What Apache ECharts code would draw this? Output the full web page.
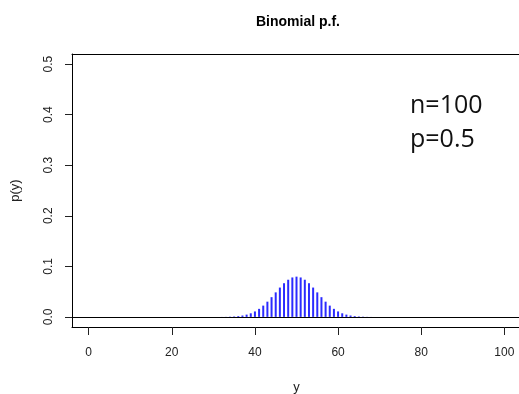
<!DOCTYPE html>
<html>
<head>
<meta charset="utf-8">
<script src="https://cdn.jsdelivr.net/npm/echarts@6/dist/echarts.min.js"></script>
<style>html,body{margin:0;padding:0;background:#fff;}#c{width:519px;height:394px;}</style>
</head>
<body>
<div id="c"></div>
<script>
// y values (number of successes) and their probabilities
var yValues = [32,33,34,35,36,37,38,39,40,41,42,43,44,45,46,47,48,49,50,51,52,53,54,55,56,57,58,59,60,61,62,63,64,65,66,67,68];
var probs = [0.0001,0.0002,0.0005,0.0009,0.0016,0.0027,0.0045,0.0071,0.0108,0.0159,0.0223,0.0301,0.0390,0.0485,0.0580,0.0666,0.0735,0.0780,0.0796,0.0780,0.0735,0.0666,0.0580,0.0485,0.0390,0.0301,0.0223,0.0159,0.0108,0.0071,0.0045,0.0027,0.0016,0.0009,0.0005,0.0002,0.0001];
var xTicks = [0,20,40,60,80,100];
var yTicks = [0,0.1,0.2,0.3,0.4,0.5];

var chart = echarts.init(document.getElementById('c'), null, {renderer:'canvas'});
var data = yValues.map(function(v,i){return [v, probs[i]];});
var font = 'Liberation Sans, Arial';
chart.setOption({
  animation:false,
  backgroundColor:'#fff',
  title:{
    text:'Binomial p.f.', left:293, textAlign:'center', top:10,
    textStyle:{fontFamily:font, fontWeight:'bold', fontSize:14, color:'#000'}
  },
  grid:{left:72, top:54, width:449, height:273, show:false, outerBoundsMode:'none', containLabel:false},
  xAxis:[{
    type:'value', min:-4, max:104, position:'bottom',
    name:'y', nameLocation:'middle', nameGap:54,
    nameTextStyle:{fontFamily:font, fontSize:13, color:'#222'},
    axisLine:{show:true, onZero:false, lineStyle:{color:'#000', width:1}},
    splitLine:{show:false},
    axisTick:{show:true, customValues:xTicks, length:8, lineStyle:{color:'#222'}},
    axisLabel:{customValues:xTicks, margin:20, fontFamily:font, fontSize:12, color:'#222'}
  },{
    type:'value', min:-4, max:104, position:'top',
    axisLine:{show:true, onZero:false, lineStyle:{color:'#000', width:1}},
    splitLine:{show:false}, axisTick:{show:false}, axisLabel:{show:false}
  }],
  yAxis:{
    type:'value', min:-0.02, max:0.52,
    name:'p(y)', nameLocation:'middle', nameGap:50, nameRotate:90,
    nameTextStyle:{fontFamily:font, fontSize:13, color:'#222'},
    axisLine:{show:true, onZero:false, lineStyle:{color:'#000', width:1}},
    splitLine:{show:false},
    axisTick:{show:true, customValues:yTicks, length:7, lineStyle:{color:'#222'}},
    axisLabel:{customValues:yTicks, rotate:90, margin:17, fontFamily:font, fontSize:12, color:'#222',
      formatter:function(v){return v.toFixed(1);}}
  },
  series:[{
    type:'bar', data:data, barWidth:2, itemStyle:{color:'#2b2bff'},
    markLine:{silent:true, symbol:['none','none'], label:{show:false},
      lineStyle:{color:'#000', width:1, type:'solid'}, data:[{yAxis:0}]}
  }],
  graphic:[
    {type:'text', left:410, top:93, style:{text:'n=100', font:'25px "Open Sans"', fill:'#111'}},
    {type:'text', left:410, top:127, style:{text:'p=0.5', font:'25px "Open Sans"', fill:'#111'}}
  ]
});
</script>
</body>
</html>
